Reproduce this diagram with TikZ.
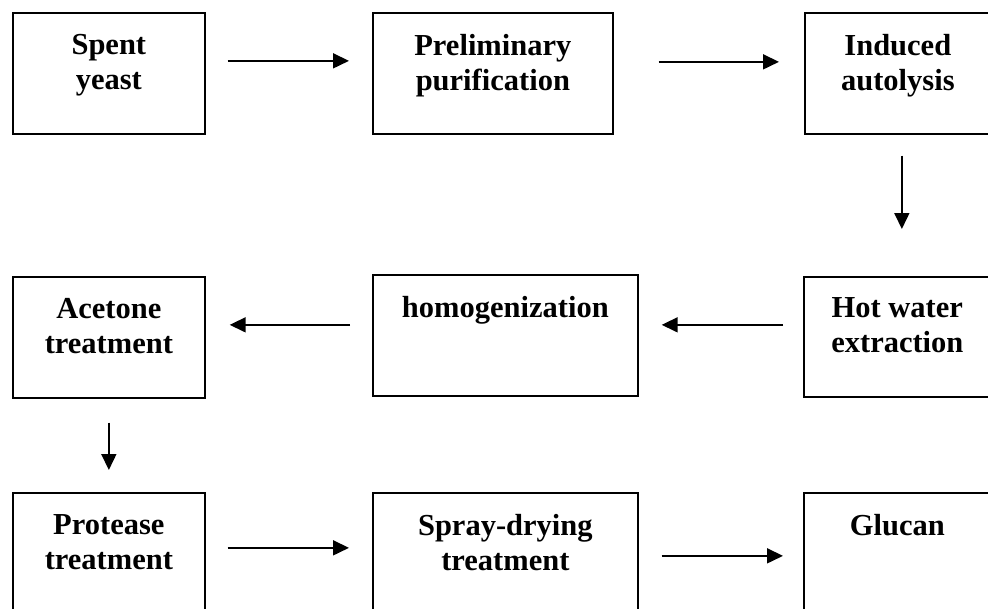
\documentclass[tikz,border=0pt]{standalone}
\usepackage{fontspec}
\setmainfont{Liberation Serif}
\usetikzlibrary{arrows.meta}
\begin{document}
\begin{tikzpicture}[x=1pt,y=-1pt,
  box/.style={draw=black, line width=1.7pt, rectangle, inner sep=0pt, anchor=north west},
  lbl/.style={anchor=north, inner sep=0pt, align=center, font=\bfseries\fontsize{30.5}{35.5}\selectfont},
  arr/.style={line width=1.7pt, -{Triangle[length=16pt,width=15pt]}}]
\useasboundingbox (0,0) rectangle (988,608);
\clip (0,0) rectangle (988,608);
% row 1
\node[box, minimum width=192pt, minimum height=121pt] (b1) at (12,12) {};
\node[box, minimum width=240pt, minimum height=121pt] (b2) at (372,12) {};
\node[box, minimum width=186pt, minimum height=121pt] (b3) at (804,12) {};
% row 2
\node[box, minimum width=192pt, minimum height=121pt] (b4) at (12,276) {};
\node[box, minimum width=265pt, minimum height=121pt] (b5) at (372,274) {};
\node[box, minimum width=187pt, minimum height=120pt] (b6) at (803,276) {};
% row 3
\node[box, minimum width=192pt, minimum height=121pt] (b7) at (12,492) {};
\node[box, minimum width=265pt, minimum height=121pt] (b8) at (372,492) {};
\node[box, minimum width=187pt, minimum height=121pt] (b9) at (803,492) {};
% labels
\node[lbl] (t1) at ([yshift=-22pt]b1.north) {Spent\\yeast};
\node[lbl] (t2) at ([yshift=-22pt]b2.north) {Preliminary\\purification};
\node[lbl] (t3) at ([yshift=-22pt]b3.north) {Induced\\autolysis};
\node[lbl] (t4) at ([yshift=-22pt]b4.north) {Acetone\\treatment};
\node[lbl] (t5) at ([yshift=-22pt]b5.north) {homogenization};
\node[lbl] (t6) at ([yshift=-21pt]b6.north) {Hot water\\extraction};
\node[lbl] (t7) at ([yshift=-22pt]b7.north) {Protease\\treatment};
\node[lbl] (t8) at ([yshift=-22pt]b8.north) {Spray-drying\\treatment};
\node[lbl] (t9) at ([yshift=-22pt]b9.north) {Glucan};
% arrows
\draw[arr, shorten <=22pt, shorten >=23pt] ([yshift=12.5pt]b1.east) -- ([yshift=12.5pt]b2.west);
\draw[arr, shorten <=45pt, shorten >=25pt] ([yshift=11.5pt]b2.east) -- ([yshift=11.5pt]b3.west);
\draw[arr, shorten <=21pt, shorten >=47pt] ([xshift=4pt]b3.south) -- ([xshift=4.5pt]b6.north);
\draw[arr, shorten <=20pt, shorten >=23pt] ([yshift=12pt]b6.west) -- ([yshift=10.5pt]b5.east);
\draw[arr, shorten <=22pt, shorten >=24pt] ([yshift=10.5pt]b5.west) -- ([yshift=12.5pt]b4.east);
\draw[arr, shorten <=24pt, shorten >=22pt] (b4.south) -- (b7.north);
\draw[arr, shorten <=22pt, shorten >=23pt] ([yshift=5.5pt]b7.east) -- ([yshift=5.5pt]b8.west);
\draw[arr, shorten <=23pt, shorten >=20pt] ([yshift=-2.5pt]b8.east) -- ([yshift=-2.5pt]b9.west);
\end{tikzpicture}
\end{document}
